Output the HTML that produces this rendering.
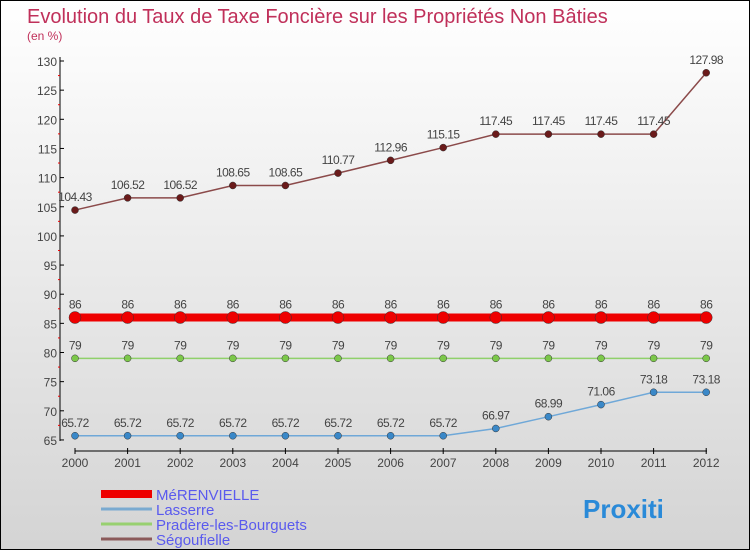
<!DOCTYPE html>
<html><head><meta charset="utf-8"><style>
body{margin:0}
#c{width:748px;height:548px;border:1px solid #000;background:linear-gradient(#fff,#d4d4d4);position:relative;font-family:"Liberation Sans",sans-serif}
</style></head><body>
<div id="c">
<svg id="s" width="748" height="548" xmlns="http://www.w3.org/2000/svg">
<text x="26" y="22" font-size="20" fill="#c0305a">Evolution du Taux de Taxe Foncière sur les Propriétés Non Bâties</text>
<text x="26" y="39" font-size="12" fill="#c0305a">(en %)</text>
<g id="g"></g>
</svg>
</div>
<script>
const years=[2000,2001,2002,2003,2004,2005,2006,2007,2008,2009,2010,2011,2012];
const yTicks=[65,70,75,80,85,90,95,100,105,110,115,120,125,130];
const merenvielle=[86,86,86,86,86,86,86,86,86,86,86,86,86];
const lasserre=[65.72,65.72,65.72,65.72,65.72,65.72,65.72,65.72,66.97,68.99,71.06,73.18,73.18];
const pradere=[79,79,79,79,79,79,79,79,79,79,79,79,79];
const segoufielle=[104.43,106.52,106.52,108.65,108.65,110.77,112.96,115.15,117.45,117.45,117.45,117.45,127.98];
const seriesNames=["MéRENVIELLE","Lasserre","Pradère-les-Bourguets","Ségoufielle"];
const NS="http://www.w3.org/2000/svg";
const g=document.getElementById('g');
const X=i=>74+i*52.6;
const Y=v=>60+(130-v)*5.83;
function mk(t,a,p){const e=document.createElementNS(NS,t);for(const k in a)e.setAttribute(k,a[k]);(p||g).appendChild(e);return e;}
// axes
let ax=mk('line',{x1:59,y1:56,x2:59,y2:440,stroke:'#000'});


yTicks.forEach(v=>{
 mk('line',{x1:59,y1:Y(v),x2:63,y2:Y(v),stroke:'#000'});
 if(v<130)mk('line',{x1:57,y1:Y(v+2.5),x2:59,y2:Y(v+2.5),stroke:'#e00'});
 const t=mk('text',{x:56,y:Y(v)+5,'text-anchor':'end','font-size':12,fill:'#444'});
 t.textContent=v;
 
 
});
let xa=mk('line',{x1:74,y1:450,x2:706,y2:450,stroke:'#000'});


years.forEach((yr,i)=>{
 mk('line',{x1:X(i),y1:447,x2:X(i),y2:453,stroke:'#000'});
 const t=mk('text',{x:X(i),y:466,'text-anchor':'middle','font-size':12,fill:'#444'});
 t.textContent=yr;
 
 
});
function series(vals,color,dot,w,r,name,fmt){
 const pl=mk('polyline',{points:vals.map((v,i)=>X(i)+','+Y(v)).join(' '),fill:'none',stroke:color,'stroke-width':w});
 
 
 vals.forEach((v,i)=>{
  const c=mk('circle',{cx:X(i),cy:Y(v),r:r,fill:dot,stroke:'#333','stroke-width':0.5});
  
  
  const t=mk('text',{x:X(i),y:Y(v)-9,'text-anchor':'middle','font-size':12,fill:'#444','letter-spacing':'-0.5'});
  t.textContent=fmt(v);
  
  
 });
}
series(segoufielle,'#8b4a4a','#6a1a1a',1.5,3.5,'segoufielle',v=>String(v));
series(lasserre,'#6fa8d8','#3a88c8',1.5,3.5,'lasserre',v=>String(v));
series(pradere,'#8fd06a','#7cc84a',1.5,3.5,'pradere',v=>String(v));
series(merenvielle,'#ee0000','#ee0000',8,6,'merenvielle',v=>String(v));
// legend
const lc=['#ee0000','#7aaad0','#98d070','#8b5a5a'],lw=[8,3,3,3];
seriesNames.forEach((n,i)=>{
 const y=493+i*15;
 const l=mk('line',{x1:100,y1:y,x2:151,y2:y,stroke:lc[i],'stroke-width':lw[i]});
 
 
 const t=mk('text',{x:155,y:y+6,'font-size':15,fill:'#5a5aee'});
 t.textContent=n;
 
 
});
const lg=mk('text',{x:582,y:517,'font-size':26,'font-weight':'bold',fill:'#2a8ad8'});
lg.textContent='Proxiti';


</script>
</body></html>
